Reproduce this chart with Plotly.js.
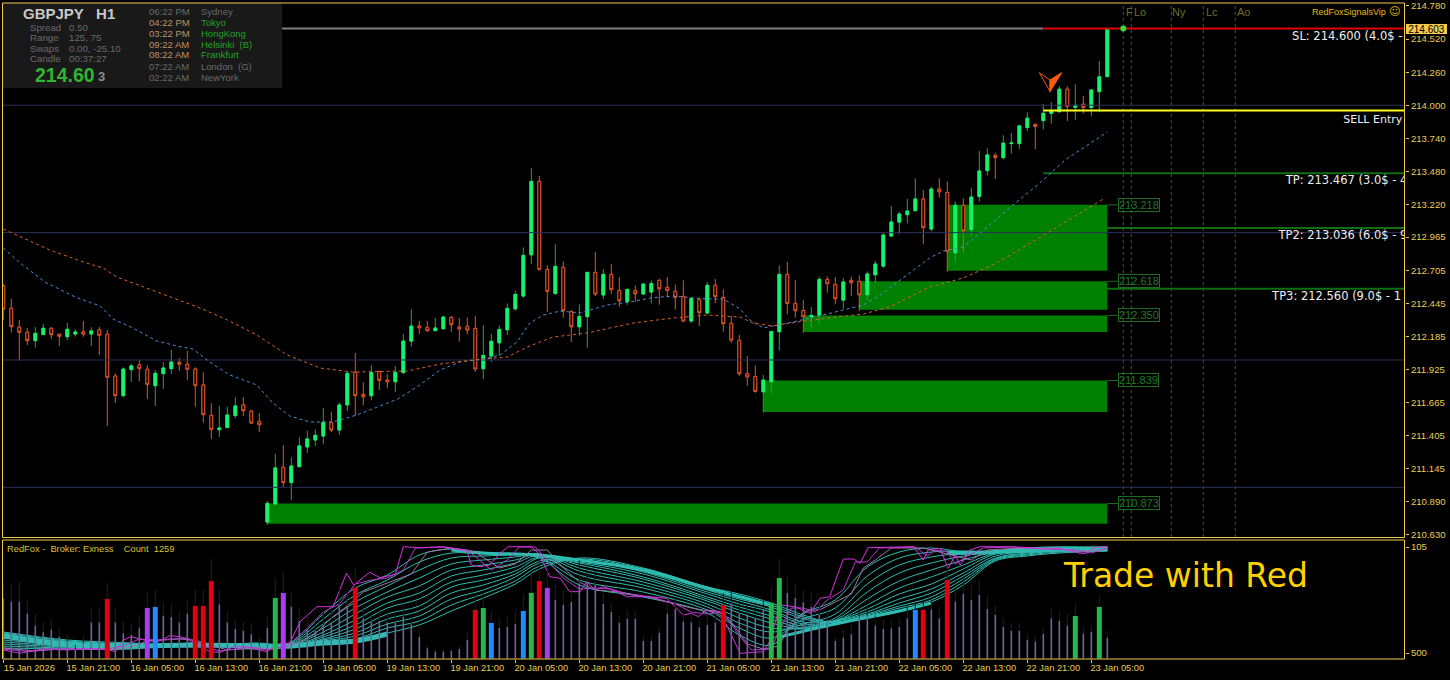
<!DOCTYPE html>
<html><head><meta charset="utf-8">
<script src="https://cdn.plot.ly/plotly-3.0.1.min.js"></script>
<style>html,body{margin:0;padding:0;background:#000;overflow:hidden}#c{width:1450px;height:680px}</style>
</head><body><div id="c"></div>
<script>
// ---------- candles ----------
const opens=[212.581,212.406,212.257,212.217,212.152,212.199,212.249,212.202,212.183,212.204,212.220,212.204,212.236,212.202,211.874,211.720,211.924,211.961,211.927,211.798,211.893,211.932,211.982,211.966,211.929,211.804,211.565,211.453,211.469,211.563,211.647,211.599,211.518,210.728,210.869,211.157,211.037,211.162,211.317,211.372,211.403,211.508,211.450,211.647,211.903,211.730,211.719,211.910,211.842,211.829,211.902,212.148,212.266,212.256,212.230,212.245,212.334,212.258,212.264,212.248,211.931,212.031,212.135,212.237,212.402,212.502,212.826,213.402,212.711,212.523,212.727,212.379,212.261,212.340,212.688,212.510,212.672,212.546,212.460,212.546,212.518,212.533,212.625,212.570,212.539,212.499,212.306,212.476,212.368,212.586,212.491,212.287,212.154,211.894,211.871,211.750,211.829,212.222,212.672,212.444,212.389,212.340,212.353,212.633,212.593,212.470,212.625,212.617,212.512,212.669,212.737,212.973,213.083,213.141,213.172,213.264,213.028,213.342,213.316,212.842,213.214,213.023,213.283,213.487,213.607,213.589,213.699,213.699,213.825,213.851,213.880,213.935,213.950,214.126,213.984,214.008,213.982,214.107,214.225];
const closes=[212.400,212.262,212.217,212.152,212.209,212.249,212.199,212.186,212.241,212.220,212.204,212.228,212.194,211.864,211.720,211.929,211.953,211.932,211.809,211.895,211.937,211.984,211.966,211.927,211.798,211.571,211.455,211.466,211.568,211.639,211.602,211.505,211.492,210.874,211.152,211.037,211.167,211.325,211.380,211.408,211.510,211.450,211.647,211.895,211.720,211.711,211.902,211.840,211.829,211.902,212.148,212.266,212.253,212.230,212.251,212.337,212.277,212.245,212.235,211.929,212.036,212.146,212.240,212.405,212.515,212.821,213.402,212.709,212.539,212.735,212.387,212.261,212.342,212.688,212.518,212.672,212.552,212.465,212.554,212.520,212.596,212.601,212.559,212.546,212.491,212.306,212.483,212.371,212.586,212.497,212.285,212.156,211.892,211.868,211.753,211.842,212.224,212.672,212.444,212.387,212.340,212.350,212.633,212.599,212.481,212.612,212.607,212.512,212.675,212.753,212.981,213.083,213.146,213.169,213.264,213.039,213.342,213.321,212.853,213.214,213.015,213.279,213.484,213.610,213.589,213.702,213.704,213.838,213.898,213.833,213.937,213.956,214.126,213.990,214.000,213.982,214.120,214.223,214.603];
const highs=[212.597,212.479,212.314,212.249,212.257,212.283,212.257,212.204,212.291,212.243,212.306,212.257,212.259,212.236,211.895,211.942,211.969,212.000,211.961,211.921,211.984,212.079,212.016,212.073,211.942,211.903,211.660,211.639,211.633,211.709,211.709,211.607,211.584,210.893,211.262,211.332,211.236,211.395,211.445,211.455,211.623,211.592,211.667,211.908,212.055,211.824,211.960,211.915,211.889,211.952,212.203,212.400,212.306,212.306,212.329,212.345,212.345,212.329,212.334,212.345,212.274,212.203,212.271,212.444,212.546,212.884,213.505,213.444,212.743,212.910,212.774,212.392,212.436,212.690,212.847,212.714,212.753,212.651,212.562,212.586,212.604,212.625,212.638,212.651,212.593,212.625,212.486,212.489,212.612,212.635,212.554,212.345,212.196,212.031,211.957,211.881,212.227,212.743,212.769,212.628,212.470,212.415,212.654,212.656,212.651,212.643,212.656,212.664,212.696,212.779,213.002,213.209,213.164,213.264,213.426,213.334,213.361,213.426,213.402,213.245,213.269,213.350,213.641,213.662,213.626,213.764,213.783,213.846,213.945,213.853,214.011,214.024,214.152,214.149,214.165,214.073,214.120,214.348,214.603];
const lows=[212.314,212.215,211.995,212.118,212.097,212.196,212.165,212.110,212.157,212.183,212.183,212.110,212.039,211.482,211.662,211.704,211.827,211.835,211.694,211.639,211.772,211.890,211.914,211.843,211.633,211.508,211.380,211.395,211.466,211.544,211.560,211.497,211.434,210.704,210.869,211.000,210.900,211.160,211.270,211.325,211.340,211.434,211.411,211.599,211.563,211.646,211.685,211.764,211.777,211.748,211.887,212.104,212.203,212.222,212.227,212.243,212.219,212.143,212.203,211.908,211.850,211.983,212.033,212.196,212.387,212.489,212.753,212.706,212.376,212.510,212.332,212.141,212.190,212.096,212.502,212.478,212.518,212.418,212.434,212.457,212.512,212.442,212.434,212.491,212.395,212.300,212.292,212.266,212.363,212.447,212.222,212.135,211.876,211.798,211.743,211.586,211.737,212.073,212.360,212.332,212.214,212.253,212.287,212.528,212.439,212.400,212.502,212.384,212.470,212.607,212.724,212.968,212.989,213.073,213.169,212.910,213.010,213.274,212.693,212.774,212.842,212.973,213.243,213.448,213.421,213.573,213.620,213.657,213.798,213.657,213.809,213.856,213.940,213.877,213.887,213.935,213.916,213.945,214.225];
const barIndex=opens.map((_,k)=>k);

// ---------- moving averages: [bar, price] readings ----------
const blueMA=[[0,212.879],[2.1,212.761],[5.2,212.612],[9,212.494],[12.1,212.424],[13.7,212.322],[16.2,212.251],[19.2,212.149],[21.7,212.110],[23.7,212.086],[25.8,211.984],[28.3,211.882],[31.7,211.803],[33.7,211.662],[35.8,211.560],[38.3,211.513],[41.2,211.513],[44.2,211.568],[49.3,211.693],[51.7,211.788],[54.6,211.921],[57.1,211.984],[60,212.007],[62.1,212.039],[64.2,212.141],[65.8,212.290],[67.5,212.353],[69.6,212.384],[72.1,212.369],[75.5,212.432],[78.3,212.455],[80.9,212.487],[83.7,212.502],[88,212.479],[90,212.479],[92.1,212.400],[93.3,212.314],[95,212.251],[96.2,212.267],[98.7,212.298],[102.5,212.353],[105,212.392],[107.5,212.432],[109.6,212.510],[112.5,212.644],[115.8,212.801],[117.5,212.856],[120,212.887],[123,213.044],[126.2,213.217],[129.6,213.390],[132.7,213.570],[138,213.790]];
const orangeMA=[[0,213.028],[0.8,213.005],[5.8,212.864],[10,212.769],[12.5,212.722],[14.2,212.651],[17.5,212.573],[21.2,212.487],[24.6,212.408],[28,212.314],[31.7,212.196],[35.5,212.039],[39.6,211.937],[43.7,211.905],[50.5,211.913],[54.6,211.968],[58.7,212.000],[63,212.023],[65.5,212.102],[68.7,212.180],[73,212.212],[78.7,212.290],[83.7,212.329],[88,212.353],[92.1,212.337],[93.7,212.290],[96.2,212.267],[100,212.306],[103.4,212.329],[107.5,212.361],[110.8,212.416],[115.8,212.573],[120,212.644],[124.2,212.761],[130.5,212.997],[137.5,213.264]];

// ---------- levels ----------
const roundLevels=[214,213,212,211];
const slLevel=214.603, entryLevel=213.958, tp1=213.467, tp2=213.036, tp3=212.560;
const zoneStart=[33,95,100,107,118];
const zoneTop=[210.873,211.839,212.350,212.618,213.218];
const zoneBottom=[210.714,211.591,212.220,212.395,212.701];
const zoneLabels=["210.873","211.839","212.350","212.618","213.218"];
const sessionBars=[140,141,146,150,154];
const sessionLabelBars=[140.1,141.1,145.85,150.05,153.95];
const sessionNames=["F","Lo","Ny","Lc","Ao"];

// ---------- axis labels ----------
const priceTicks=[214.78,214.52,214.26,214.00,213.74,213.48,213.22,212.965,212.705,212.445,212.185,211.925,211.665,211.405,211.145,210.89,210.63];
const priceTickText=["214.780","214.520","214.260","214.000","213.740","213.480","213.220","212.965","212.705","212.445","212.185","211.925","211.665","211.405","211.145","210.890","210.630"];
const timeTicks=[0,8,16,24,32,40,48,56,64,72,80,88,96,104,112,120,128,136];
const timeLabels=["15 Jan 2026","15 Jan 21:00","16 Jan 05:00","16 Jan 13:00","16 Jan 21:00","19 Jan 05:00","19 Jan 13:00","19 Jan 21:00","20 Jan 05:00","20 Jan 13:00","20 Jan 21:00","21 Jan 05:00","21 Jan 13:00","21 Jan 21:00","22 Jan 05:00","22 Jan 13:00","22 Jan 21:00","23 Jan 05:00"];

// ---------- lower panel: volume bars ----------
const volumes=[602,569,569,449,329,263,289,219,176,86,153,362,362,596,362,253,236,303,506,516,429,416,362,449,526,526,775,542,362,296,279,243,136,309,606,656,519,376,296,279,336,362,542,529,709,402,369,376,362,362,419,343,219,103,70,70,76,96,186,486,506,356,306,316,346,476,656,775,706,586,539,566,752,769,735,546,469,359,399,399,176,176,259,449,496,369,362,313,336,362,536,552,452,442,402,492,559,805,656,606,562,519,436,386,176,209,243,419,429,329,296,303,316,402,486,486,492,402,785,569,646,586,636,496,436,316,276,276,186,169,246,402,379,329,426,249,269,516,209];
const volumeWick=[150,180,200,150,120,100,110,90,60,50,70,130,150,160,130,120,110,130,150,170,140,130,100,150,170,160,220,150,100,100,90,110,80,120,200,220,160,130,120,100,130,150,180,170,190,120,100,110,110,100,130,100,60,30,20,20,25,30,80,150,150,110,100,100,120,170,200,230,180,150,140,130,230,110,160,110,90,80,90,80,50,50,60,100,110,80,90,80,100,90,120,120,90,90,120,100,150,190,170,140,120,140,130,90,40,80,100,90,120,100,90,80,90,120,70,80,90,110,150,130,170,150,160,130,100,90,80,80,60,60,70,90,90,120,120,80,60,120,70];
const redBars=[13,24,25,26,44,59,67,90,115,118];
const purpleBars=[18,35,68];
const blueBars=[19,61,65,114];
const greenBars=[34,60,66,96,97,134,137];

// ---------- lower panel: ribbon (fast to slow) at these bars ----------
const ribbonBars=[0,8,16,24,32,36,40,44,48,52,56,60,64,67,72,80,88,92,96,100,104,108,112,116,120,124,128,132,138];
const ribbonRows=[
[4,6,8,10,12,14,15,16,17,18,19,20],
[3,4,5,6,7,8,8,9,10,10,11,12],
[3,4,4,5,5,6,6,7,7,8,8,9],
[9,9,8,8,8,7,7,7,6,6,6,5],
[3,4,4,5,5,6,6,7,7,8,8,9],
[10,9,8,7,7,6,6,6,6,6,6,5],
[38,33,28,24,20,17,15,13,12,11,10,9],
[64,57,50,44,38,32,27,23,19,16,13,11],
[77,72,66,60,55,49,44,38,33,28,24,19],
[97,90,82,74,66,59,53,46,41,36,31,27],
[103,99,94,88,82,76,70,65,59,53,47,41],
[99,98,96,92,87,82,77,72,67,62,58,54],
[98,98,97,95,92,89,85,81,78,75,71,68],
[94,95,97,98,98,97,95,94,91,89,86,83],
[67,72,77,81,84,87,89,90,92,92,93,94],
[55,60,64,67,70,73,75,78,80,81,83,84],
[39,42,45,48,51,53,55,58,60,62,64,65],
[17,24,29,34,39,42,45,48,51,53,55,58],
[7,14,20,24,29,33,36,40,42,45,47,49],
[38,33,28,24,23,24,26,28,30,33,35,37],
[52,44,38,34,32,31,31,31,31,30,30,29],
[85,76,68,60,53,47,43,40,38,37,36,35],
[100,94,87,79,71,64,58,53,49,46,44,42],
[104,100,95,89,82,75,68,63,59,55,52,50],
[100,101,99,96,92,87,83,79,76,73,70,67],
[99,100,101,101,100,99,98,96,94,93,92,91],
[102,103,104,104,103,102,101,100,99,98,97,96],
[103,104,105,105,104,104,103,102,101,101,100,99],
[105,105,105,104,104,104,103,103,102,102,101,101]];
const ribbonBandA=[[0,16],[4,11],[8,7],[16,6],[24,7],[32,6],[36,6],[40,9],[44,11],[48,18]];
const ribbonBandB=[[56,102],[60,99],[64,98],[67,97],[72,92],[80,82],[88,64],[96,47]];
const ribbonBandC=[[97,15],[104,28],[112,41],[116,49]];
const ribbonBandD=[[118,99],[124,100],[130,102],[138,103]];
const fastLine1=[[0,2],[2.1,-1.3],[4.2,2],[5,3],[8,2],[10,3.7],[13.3,2],[14,.3],[15,12],[16,15.3],[18,11],[19.6,11],[20.8,16.3],[22.1,15.3],[23.5,11],[25.8,.3],[27.1,-.3],[28.8,5.3],[30.4,5.3],[32.9,.3],[34.6,8.7],[35.8,8.7],[37.1,30.3],[39.2,45.3],[41.2,45.3],[42.9,78.7],[43.8,67],[45.8,79.7],[47.1,74.3],[49,77.7],[50,105.3],[52.1,104.3],[55,105.3],[57.1,102],[57.9,102],[58.5,87],[59.6,85.3],[60.8,87],[62.1,98.7],[63.1,105.3],[66,105.3],[67.1,97],[68.3,75.3],[69.6,73.7],[70.8,60.3],[72.1,60.3],[72.9,70.3],[74,62],[75,65.3],[76.7,60.3],[77.9,55.3],[80.4,55.3],[82.9,53.7],[85,37],[86,38.7],[86.9,35.3],[87.9,42],[89.6,40.3],[92.1,-1.3],[95,.3],[95.8,10.3],[97.1,47],[99,45.3],[100.8,38.7],[102.1,53.7],[103.3,55.3],[105,93],[106.3,93],[107.1,88.7],[108.1,104.3],[113.8,105.3],[115,92],[115.6,102],[117.1,103.7],[118.1,83.7],[119,97],[119.6,87],[120.8,102],[122.1,105.3],[125.8,105.3],[129.6,103.7],[132.1,103.7],[134.6,98.7],[135.4,98.7],[136.3,104.3],[138,105.3]];
const fastLine2=[[0,3],[3,.5],[6,3],[9,3],[13,3],[15,6],[17,13],[19,12],[21,13],[23,14],[25,6],[27,1],[29,3],[31,5],[33,2],[35.5,6],[38,24],[40,40],[42,48],[44,68],[46,72],[48,74],[50,82],[51.5,104],[55,105],[58,102],[59.5,92],[61,82],[63,92],[64.5,105],[66.5,105],[68,92],[70,74],[72,63],[74,64],[76,63],[78,58],[81,55],[84,48],[86,40],[88,38],[90,40],[92,16],[93.5,2],[96,3],[97,22],[98.5,44],[100,44],[101.5,40],[103,52],[105,62],[106.5,90],[108,90],[109.5,104],[114,105],[115.5,96],[116.5,102],[118,100],[119,88],[120.5,96],[122.5,104],[126,105],[130,103],[134,102],[136,99],[138,104]];
const fastLine3=[[0,4],[4,1],[7,3],[10,3],[14,3],[16,5],[18,11],[20,12],[22,13],[24,12],[26,7],[28,2],[30,3],[32,4],[34,3],[36,6],[39,18],[41,34],[43,46],[45,60],[47,66],[49,72],[51,78],[53,100],[56,104],[59,100],[60.5,92],[62,84],[64,88],[66,102],[68,102],[70,84],[72,70],[74,62],[77,60],[80,56],[83,50],[86,44],[89,40],[91,30],[93,8],[95,3],[97,6],[98.5,30],[100.5,42],[102,42],[104,50],[106,58],[107.5,84],[109,92],[111,104],[115,104],[117,100],[119,96],[121,92],[123,102],[127,104],[131,103],[135,101],[138,103]];

// ---------- colours ----------
const GOLD='#f2cb4a', GOLDTXT='#eccb55', BULL='#17f070', BULLW='#2f9e44', BEAR='#e0532a', TEAL='#2fbcb0';
const px=x=>(x-3)/1402, py=y=>1-(y-3)/656;

const traces=[];
const addLine=(x,y,color,width,dash,ya)=>traces.push({type:'scatter',mode:'lines',x,y,xaxis:'x',yaxis:ya||'y',line:{color,width,dash:dash||'solid'},hoverinfo:'skip'});

// round-number lines
roundLevels.forEach(v=>addLine([-1,176],[v,v],'#2b3058',1));
// trade levels
addLine([-1,130],[slLevel,slLevel],'#7e7e7e',2);
addLine([130,176],[slLevel,slLevel],'#e00000',2);
addLine([130,176],[tp1,tp1],'#0f6f12',2);
addLine([138,176],[tp2,tp2],'#0f6f12',2);
addLine([138,176],[tp3,tp3],'#0f6f12',2);
// candle wicks, then bodies
traces.push({type:'candlestick',x:barIndex,open:opens,high:highs,low:lows,close:closes,hoverinfo:'skip',
  whiskerwidth:0,increasing:{line:{color:BULLW,width:1},fillcolor:BULL},decreasing:{line:{color:BEAR,width:1},fillcolor:'#000'}});
traces.push({type:'candlestick',x:barIndex,open:opens,close:closes,
  high:opens.map((o,k)=>Math.max(o,closes[k])),low:opens.map((o,k)=>Math.min(o,closes[k])),hoverinfo:'skip',
  whiskerwidth:0,increasing:{line:{color:BULL,width:1},fillcolor:BULL},decreasing:{line:{color:BEAR,width:1},fillcolor:'#000'}});
addLine(blueMA.map(p=>p[0]),blueMA.map(p=>p[1]),'#4a8fdc',1,'3px,3px');
addLine(orangeMA.map(p=>p[0]),orangeMA.map(p=>p[1]),'#d9622b',1,'3px,3px');
addLine([130,176],[entryLevel,entryLevel],'#ffff1e',2);
traces.push({type:'scatter',mode:'markers',x:[140],y:[slLevel],marker:{color:'#2fdc35',size:6},hoverinfo:'skip'});
// clipped trade texts
traces.push({type:'scatter',mode:'text',x:[161.1,167.5,160.3,159.4,158.6],y:[214.537,213.885,213.405,212.97,212.49],
  text:["SL: 214.600 (4.0$ -","SELL Entry","TP: 213.467 (3.0$ - 4","TP2: 213.036 (6.0$ - 9","TP3: 212.560 (9.0$ - 1"],
  textposition:'middle right',textfont:{family:'DejaVu Sans',size:[11.5,11,11.5,11.5,11.5],color:'#eeeeee'},cliponaxis:true,hoverinfo:'skip'});

// ribbon
for(let l=0;l<12;l++) addLine(ribbonBars,ribbonRows.map(r=>r[l]),TEAL,1,'solid','y2');
[[ribbonBandA,5],[ribbonBandB,3],[ribbonBandC,3],[ribbonBandD,4]].forEach(b=>addLine(b[0].map(p=>p[0]),b[0].map(p=>p[1]),TEAL,b[1],'solid','y2'));
traces.forEach(t=>{if(t.yaxis==='y2')t.line.shape='spline';});
addLine(fastLine3.map(p=>p[0]),fastLine3.map(p=>p[1]),'#9a78a8',1,'solid','y2');
addLine(fastLine2.map(p=>p[0]),fastLine2.map(p=>p[1]),'#b43ccc',1,'solid','y2');
addLine(fastLine1.map(p=>p[0]),fastLine1.map(p=>p[1]),'#d832e0',1,'solid','y2');

// volume
const barColor=k=>redBars.includes(k)?'#e0000f':purpleBars.includes(k)?'#a83cf0':blueBars.includes(k)?'#1e8cff':greenBars.includes(k)?'#22b84a':'#6f64a0';
const isWide=k=>redBars.includes(k)||purpleBars.includes(k)||blueBars.includes(k)||greenBars.includes(k);
traces.push({type:'bar',x:barIndex,y:volumes,xaxis:'x',yaxis:'y3',hoverinfo:'skip',
  width:barIndex.map(k=>isWide(k)?0.625:0.2),
  marker:{color:barIndex.map(barColor),line:{width:0}},
  error_y:{type:'data',symmetric:false,array:volumeWick,arrayminus:volumes.map(()=>0),color:'#1e1e1e',thickness:1,width:0}});

// ---------- shapes ----------
const shapes=[];
zoneStart.forEach((s,k)=>{
  shapes.push({type:'rect',layer:'below',xref:'x',yref:'y',x0:s,x1:138,y0:zoneBottom[k],y1:zoneTop[k],fillcolor:'#008000',line:{width:0}});
  shapes.push({type:'line',layer:'below',xref:'x',yref:'y',x0:138,x1:139.3,y0:zoneTop[k],y1:zoneTop[k],line:{color:'#1f6b1f',width:1}});
});
sessionBars.forEach(b=>shapes.push({type:'line',layer:'below',xref:'x',yref:'paper',x0:b,x1:b,y0:py(537),y1:py(3),line:{color:'#4c4c4c',width:1,dash:'3px,3px'}}));
// sell arrow
shapes.push({type:'path',layer:'above',xref:'x',yref:'y',path:'M129.5,214.256 L130.84,214.199 L130.84,214.107 Z',fillcolor:'rgba(0,0,0,0)',line:{color:'#e85a1c',width:1}});
shapes.push({type:'path',layer:'above',xref:'x',yref:'y',path:'M132.3,214.256 L130.84,214.199 L130.84,214.107 Z',fillcolor:'#ff5a10',line:{color:'#ff5a10',width:1}});
// info panel and frames
shapes.push({type:'rect',layer:'above',xref:'paper',yref:'paper',x0:px(3),x1:px(282),y0:py(88),y1:py(3),fillcolor:'#191919',line:{width:0}});
shapes.push({type:'rect',layer:'above',xref:'paper',yref:'paper',x0:px(2.5),x1:px(1404.5),y0:py(537.5),y1:py(3),fillcolor:'rgba(0,0,0,0)',line:{color:GOLD,width:1}});
shapes.push({type:'rect',layer:'above',xref:'paper',yref:'paper',x0:px(2.5),x1:px(1404.5),y0:py(659),y1:py(540),fillcolor:'rgba(0,0,0,0)',line:{color:GOLD,width:1}});

// ---------- annotations ----------
const ann=[];
const label=(text,x,y,size,color,extra)=>ann.push(Object.assign({xref:'paper',yref:'paper',x:px(x),y:py(y),text,showarrow:false,xanchor:'left',yanchor:'middle',borderpad:0,borderwidth:0,
  font:{family:'Liberation Sans',size,color}},extra||{}));
label('<b>GBPJPY   H1</b>',23,13.5,15,'#c8c8c8');
[["Spread","0.50",28],["Range","125, 75",38],["Swaps","0.00, -25.10",48],["Candle","00:37:27",58]].forEach(r=>{label(r[0],30,r[2],9.7,'#6a6a6a');label(r[1],69,r[2],9.7,'#6a6a6a');});
label('<b>214.60</b>',35,75,19.5,'#2fb52f');
label('<b>3</b>',98,76.5,13,'#8a8a8a');
const ORG='#c09060',DIM='#6a6a6a',GRN='#22a02a';
[["06:22 PM","Sydney",12,DIM,DIM],["04:22 PM","Tokyo",22.5,ORG,GRN],["03:22 PM","HongKong",33.5,ORG,GRN],["09:22 AM","Helsinki  (B)",44.5,ORG,GRN],["08:22 AM","Frankfurt",55,ORG,GRN],["07:22 AM","London  (G)",66.5,DIM,DIM],["02:22 AM","NewYork",77.5,DIM,DIM]].forEach(r=>{label(r[0],149,r[2],9.5,r[3]);label(r[1],201,r[2],9.5,r[4]);});
label('RedFoxSignalsVip',1312,12,9,'#e0bc10');
ann.push({xref:'paper',yref:'paper',x:px(1394),y:py(12),text:'☺',showarrow:false,xanchor:'center',yanchor:'middle',font:{family:'DejaVu Sans',size:11,color:'#e0bc10'},borderwidth:0,borderpad:0});
label('214.603',1406,29,10,'#000',{bgcolor:GOLD,width:41,height:10,align:'center'});
sessionBars.forEach((b,k)=>ann.push({xref:'x',yref:'paper',x:sessionLabelBars[k],y:py(12),text:sessionNames[k],showarrow:false,xanchor:'left',yanchor:'middle',font:{family:'Liberation Sans',size:11,color:'#6e6e24'}}));
zoneTop.forEach((v,k)=>ann.push({xref:'x',yref:'y',x:139.3,y:v,text:zoneLabels[k],showarrow:false,xanchor:'left',yanchor:'middle',bgcolor:'rgba(0,0,0,0)',bordercolor:'#1f6b1f',borderwidth:1,borderpad:0,font:{family:'Liberation Sans',size:11,color:'#1f7a25'}}));
label('RedFox -  Broker: Exness    Count  1259',7,548.5,9.3,'#d8c034');
label('Trade with Red',1063,575,33,'#ffd000',{});
ann[ann.length-1].font.family='DejaVu Sans';

const tickFont={family:'Liberation Sans',size:9.6,color:GOLDTXT};
const layout={
  width:1450,height:680,paper_bgcolor:'#000',plot_bgcolor:'#000',showlegend:false,hovermode:false,dragmode:false,
  margin:{l:3,r:45,t:3,b:21,pad:0},boxgap:0.5,barmode:'overlay',
  font:{family:'Liberation Sans',size:10,color:GOLDTXT},
  xaxis:{domain:[0,1],anchor:'y2',range:[-0.0375,175.21],tickmode:'array',tickvals:timeTicks,ticktext:timeLabels,tickangle:0,ticks:'outside',ticklen:3,tickcolor:GOLD,
    ticklabelshift:26,ticklabelstandoff:-3,ticklabeloverflow:'allow',tickfont:{family:'Liberation Sans',size:9.3,color:GOLDTXT},showgrid:false,zeroline:false,showline:false,rangeslider:{visible:false},fixedrange:true},
  yaxis:{domain:[0.18522,1],anchor:'x',side:'right',range:[210.606,214.803],tickmode:'array',tickvals:priceTicks,ticktext:priceTickText,ticks:'outside',ticklen:3,tickcolor:GOLD,
    tickfont:tickFont,showgrid:false,zeroline:false,showline:false,fixedrange:true},
  yaxis2:{domain:[0,0.18140],anchor:'x',side:'right',range:[-7,112],tickmode:'array',tickvals:[105,-1],ticktext:['105','500'],ticks:'outside',ticklen:3,tickcolor:GOLD,
    tickfont:tickFont,showgrid:false,zeroline:false,showline:false,fixedrange:true},
  yaxis3:{overlaying:'y2',anchor:'x',side:'right',range:[-5,1185],visible:false,showgrid:false,zeroline:false,fixedrange:true},
  shapes,annotations:ann
};
Plotly.newPlot('c',traces,layout,{displayModeBar:false,staticPlot:true});
</script></body></html>
